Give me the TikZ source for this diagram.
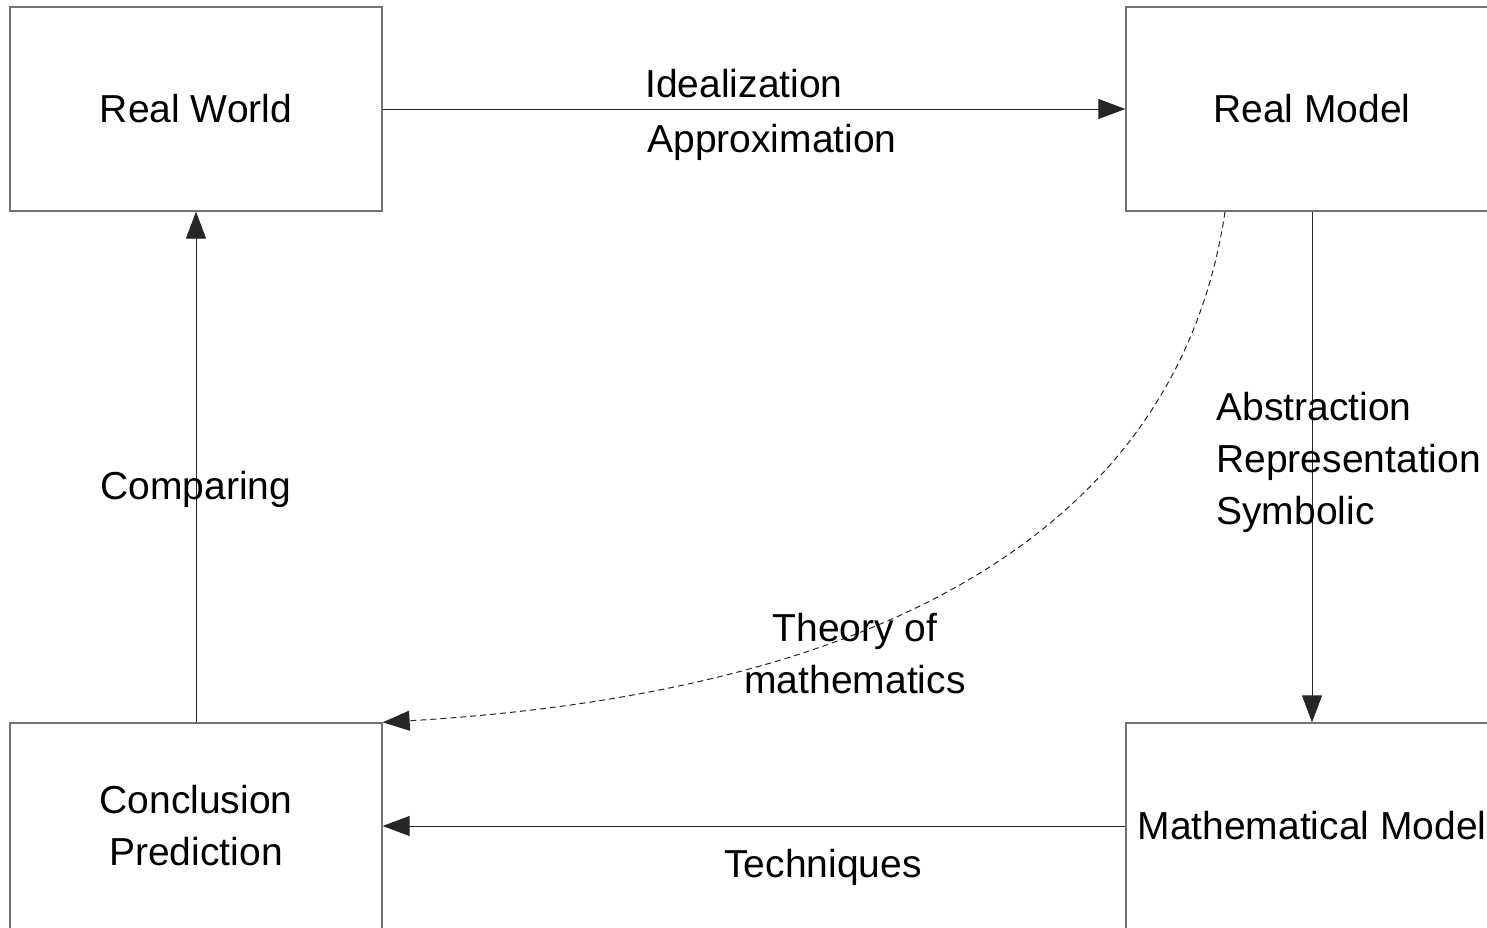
\documentclass[tikz,border=0pt]{standalone}
\usepackage{fontspec}
\setmainfont{Liberation Sans}
\usepackage{tikz}
\usetikzlibrary{arrows.meta}
\usetikzlibrary{positioning}
\usetikzlibrary{calc}
\tikzset{
  mod_box/.style = {rectangle, draw=black!55, line width=0.65pt,
    minimum width=186pt, minimum height=102pt, inner sep=0pt,
    align=center, font=\fontsize{19.5}{26}\selectfont},% boite du cycle
  mod_lbl/.style = {inner sep=0pt, font=\fontsize{19.5}{26}\selectfont},% etiquette
  mod_arr/.style = {-{Triangle[length=13.5pt,width=10pt]}, line width=0.5pt,
    draw=black!85}% fleche
}

\begin{document}
\begin{tikzpicture}[x=0.5pt,y=-0.5pt]
\useasboundingbox (0,0) rectangle (1487,927);
\clip (0,0) rectangle (1487,927);

\node [mod_box] (rw) at (196,109) {Real World};
\node [mod_box] (rm) at (1312,109) {Real Model};
\node [mod_box, minimum height=103pt] (cp) at (196,826) {Conclusion\\Prediction};
\node [mod_box, minimum height=103pt] (mm) at (1312,826) {Mathematical Model};

\draw [mod_arr] (rw.east) -- (rm.west);
\draw [mod_arr] (rm.south) -- (mm.north);
\draw [mod_arr] (mm.west) -- (cp.east);
\draw [mod_arr] (cp.north) -- (rw.south);
\draw [mod_arr, dash pattern=on 3pt off 2pt]
  ([xshift=-43.5pt]rm.south) .. controls (1189,456) and (992,686) .. (cp.north east);

\node [mod_lbl, anchor=base west] (ideal) at (645,97) {Idealization};
\node [mod_lbl, anchor=base west] (approx) at (647,152) {Approximation};
\node [mod_lbl, anchor=west, align=left] (abstr) at (1216,462) {Abstraction\\Representation\\Symbolic};
\node [mod_lbl, anchor=base] (techn) at (823,877) {Techniques};
\node [mod_lbl, anchor=base] (compar) at (196,499) {Comparing};
\node [mod_lbl, align=center] (theory) at (855,654) {Theory of\\mathematics};
%\node [mod_lbl] at (rm) [yshift=20pt] {};
\end{tikzpicture}
\end{document}
